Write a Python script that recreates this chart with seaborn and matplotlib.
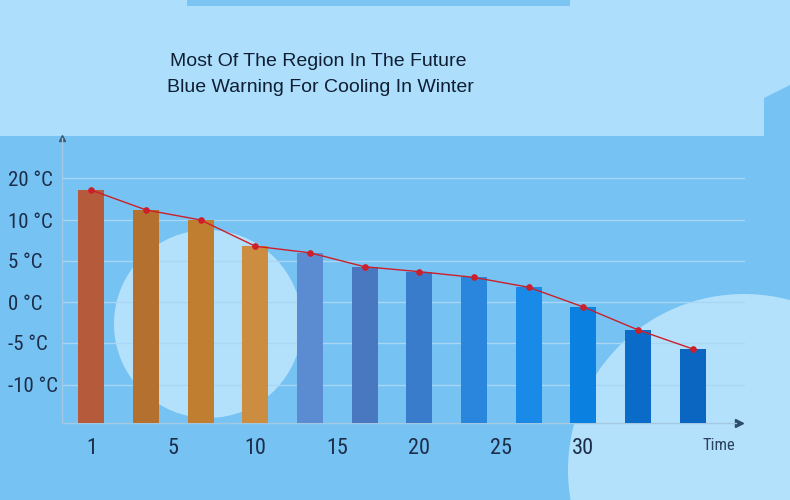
import numpy as np
import pandas as pd
import matplotlib
matplotlib.use("Agg")
import matplotlib.pyplot as plt
from matplotlib import font_manager
from matplotlib.patches import Rectangle, Circle, Polygon
import seaborn as sns

# ---- data ----
categories = [f"P{i}" for i in range(1, 13)]
temperatures = [17.1, 12.4, 10.0, 6.8, 6.0, 4.3, 3.7, 3.0, 1.8, -0.6, -3.4, -5.7]
bar_colors = ["#b65a3c", "#b4702e", "#c07f30", "#cc8d40", "#5b8bd0", "#4a78c0",
              "#3a7ccc", "#2a86dc", "#1a8ae8", "#0a80e0", "#0a6cc8", "#0a66c0"]
ytick_temps = [20, 10, 5, 0, -5, -10]
ytick_labels = ["20 °C", "10 °C", "5 °C", "0 °C", "-5 °C", "-10 °C"]
xtick_labels = ["1", "5", "10", "15", "20", "25", "30"]
title_lines = ["Most Of The Region In The Future", "Blue Warning For Cooling In Winter"]

# ---- layout ----
ytick_pos = [245, 203, 162, 121, 80, 38]   # axis positions of the (non-linear) temperature ticks
xtick_pos = [0, 1.5, 3, 4.5, 6, 7.5, 9]

order = np.argsort(ytick_temps)
heights = np.interp(temperatures, np.array(ytick_temps)[order], np.array(ytick_pos)[order])
df = pd.DataFrame({"cat": categories, "h": heights})

sns.set_theme(style="white")
plt.rcParams["font.family"] = ["Liberation Sans", "DejaVu Sans"]

# pick a condensed face for the axis labels
available = {f.name for f in font_manager.fontManager.ttflist}
condensed_stretch = {f.name for f in font_manager.fontManager.ttflist
                     if str(f.stretch) in ("condensed", "semi-condensed", "575", "550")}
narrow_kw = dict(family=["Liberation Sans", "DejaVu Sans"])
size_scale = 0.85
for cand in ["Liberation Sans Narrow", "Roboto Condensed", "Open Sans Condensed",
             "DejaVu Sans Condensed", "Noto Sans Condensed"]:
    if cand in available:
        narrow_kw = dict(family=[cand, "DejaVu Sans"])
        size_scale = 1.0
        break
else:
    if "DejaVu Sans" in condensed_stretch:
        narrow_kw = dict(family=["DejaVu Sans"], stretch="condensed")
        size_scale = 0.92

fig = plt.figure(figsize=(7.9, 5), dpi=100)

# background decorations in pixel coords
bg = fig.add_axes([0, 0, 1, 1], zorder=0)
bg.set_xlim(0, 790); bg.set_ylim(500, 0); bg.axis("off")
low_c, top_c, light_c = "#76c2f3", "#addffc", "#b3e1fb"
bg.add_patch(Rectangle((0, 0), 790, 500, color=low_c, lw=0))
bg.add_patch(Rectangle((0, 0), 790, 136, color=top_c, lw=0))
bg.add_patch(Polygon([(764, 137), (764, 98), (790, 85), (790, 137)], color=low_c, lw=0))
bg.add_patch(Rectangle((187, 0), 383, 6, color="#7cc4f2", lw=0))
bg.add_patch(Circle((208, 324), 94, color=light_c, lw=0))
bg.add_patch(Circle((744, 470), 176, color=light_c, lw=0))

ax = fig.add_axes([62 / 790, 77 / 500, 683 / 790, 285 / 500], zorder=1)
ax.set_facecolor("none")

sns.barplot(data=df, x="cat", y="h", hue="cat", palette=bar_colors, legend=False,
            width=0.475, saturation=1, linewidth=0, edgecolor="none", ax=ax, zorder=3)
sns.pointplot(data=df, x="cat", y="h", color="#cc1f2a", markers="o", markersize=4,
              linewidth=1.0, ax=ax, zorder=4)

ax.set_xlim(-0.538, 11.96)
ax.set_ylim(0, 285)
ax.set_xlabel(""); ax.set_ylabel("")
ax.set_yticks(ytick_pos)
ax.set_yticklabels(ytick_labels, fontsize=15 * size_scale, color="#1c2d4a", **narrow_kw)
for lab in ax.get_yticklabels():
    lab.set_horizontalalignment("left")
ax.set_xticks(xtick_pos)
ax.set_xticklabels(xtick_labels, fontsize=16 * size_scale, color="#1c2d4a", **narrow_kw)
ax.tick_params(axis="y", length=0, pad=39)
ax.tick_params(axis="x", length=0, pad=11)
ax.yaxis.grid(True, color="#a9d6f4", lw=1)
ax.set_axisbelow(True)
for s in ["top", "right"]:
    ax.spines[s].set_visible(False)
for s in ["left", "bottom"]:
    ax.spines[s].set_color("#a5c8e2")
    ax.spines[s].set_linewidth(1)
ax.spines["bottom"].set_bounds(-0.538, 11.8)
ax.plot([0.0], [1.0], marker="^", color="#3c5a78", markersize=5, transform=ax.transAxes, clip_on=False)
ax.plot([11.85], [0], marker=">", color="#2c4a6a", markersize=6, clip_on=False)

fig.text(318 / 790, 1 - 61 / 500, title_lines[0], ha="center", va="center",
         fontsize=14, color="#0f1e33")
fig.text(320 / 790, 1 - 88 / 500, title_lines[1], ha="center", va="center",
         fontsize=14, color="#0f1e33")
fig.text(719 / 790, 1 - 445 / 500, "Time", ha="center", va="center",
         fontsize=12 * size_scale, color="#2c4060", **narrow_kw)

fig.savefig("out.png", dpi=100)
